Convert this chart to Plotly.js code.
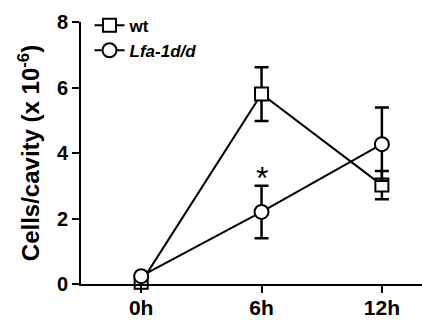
<!DOCTYPE html>
<html>
<head>
<script src="https://cdn.plot.ly/plotly-3.0.1.min.js"></script>
<style>html,body{margin:0;padding:0;background:#fff;}#chart{width:422px;height:320px;}</style>
</head>
<body>
<div id="chart"></div>
<script>
const timePoints = [0, 6, 12];
const tickLabels = ["0h", "6h", "12h"];
const wtMean = [0.05, 5.8, 3.02];
const wtErr = [0, 0.82, 0.43];
const lfaMean = [0.24, 2.2, 4.27];
const lfaErr = [0, 0.8, 1.12];
const starX = 6;
const starY = 3.25;

const FONT = "Liberation Sans, Arial, sans-serif";
const common = {
  type: "scatter",
  mode: "lines+markers",
  cliponaxis: false,
  line: {color: "#000", width: 2},
};
const traces = [
  Object.assign({}, common, {
    name: "<b>wt</b>",
    x: timePoints, y: wtMean,
    error_y: {type: "data", array: wtErr, visible: true, color: "#000", thickness: 2.5, width: 7},
    marker: {symbol: "square", size: 13, color: "#fff", line: {color: "#000", width: 2}}
  }),
  Object.assign({}, common, {
    name: "<b><i>Lfa-1d/d</i></b>",
    x: timePoints, y: lfaMean,
    error_y: {type: "data", array: lfaErr, visible: true, color: "#000", thickness: 2.5, width: 7},
    marker: {symbol: "circle", size: 14, color: "#fff", line: {color: "#000", width: 2}}
  })
];

const layout = {
  width: 422, height: 320,
  margin: {l: 81, r: 0, t: 22, b: 36},
  paper_bgcolor: "#fff", plot_bgcolor: "#fff",
  showlegend: true,
  legend: {x: 0.025, y: 1.055, xanchor: "left", yanchor: "top", bgcolor: "rgba(0,0,0,0)",
           font: {family: FONT, size: 17, color: "#000"}, tracegroupgap: 0, itemwidth: 30},
  xaxis: {
    range: [-3, 14], tickvals: timePoints, ticktext: tickLabels,
    showgrid: false, zeroline: false, showline: true, linecolor: "#000", linewidth: 2,
    ticks: "outside", ticklen: 7, tickwidth: 2, tickcolor: "#000", ticklabelstandoff: -3,
    tickfont: {family: FONT, size: 21, color: "#000", weight: "bold"}
  },
  yaxis: {
    range: [0, 8], tickvals: [0, 2, 4, 6, 8],
    showgrid: false, zeroline: false, showline: true, linecolor: "#000", linewidth: 2,
    ticks: "outside", ticklen: 7, tickwidth: 2, tickcolor: "#000",
    tickfont: {family: FONT, size: 20, color: "#000", weight: "bold"},
    title: {text: "<b>Cells/cavity (x 10<sup>-6</sup>)</b>", font: {family: FONT, size: 24, color: "#000"}, standoff: 10}
  },
  annotations: [{x: starX, y: starY, text: "*", showarrow: false, font: {family: FONT, size: 32, color: "#000"}, yanchor: "middle"}]
};
Plotly.newPlot("chart", traces, layout, {displayModeBar: false, staticPlot: true});
</script>
</body>
</html>
